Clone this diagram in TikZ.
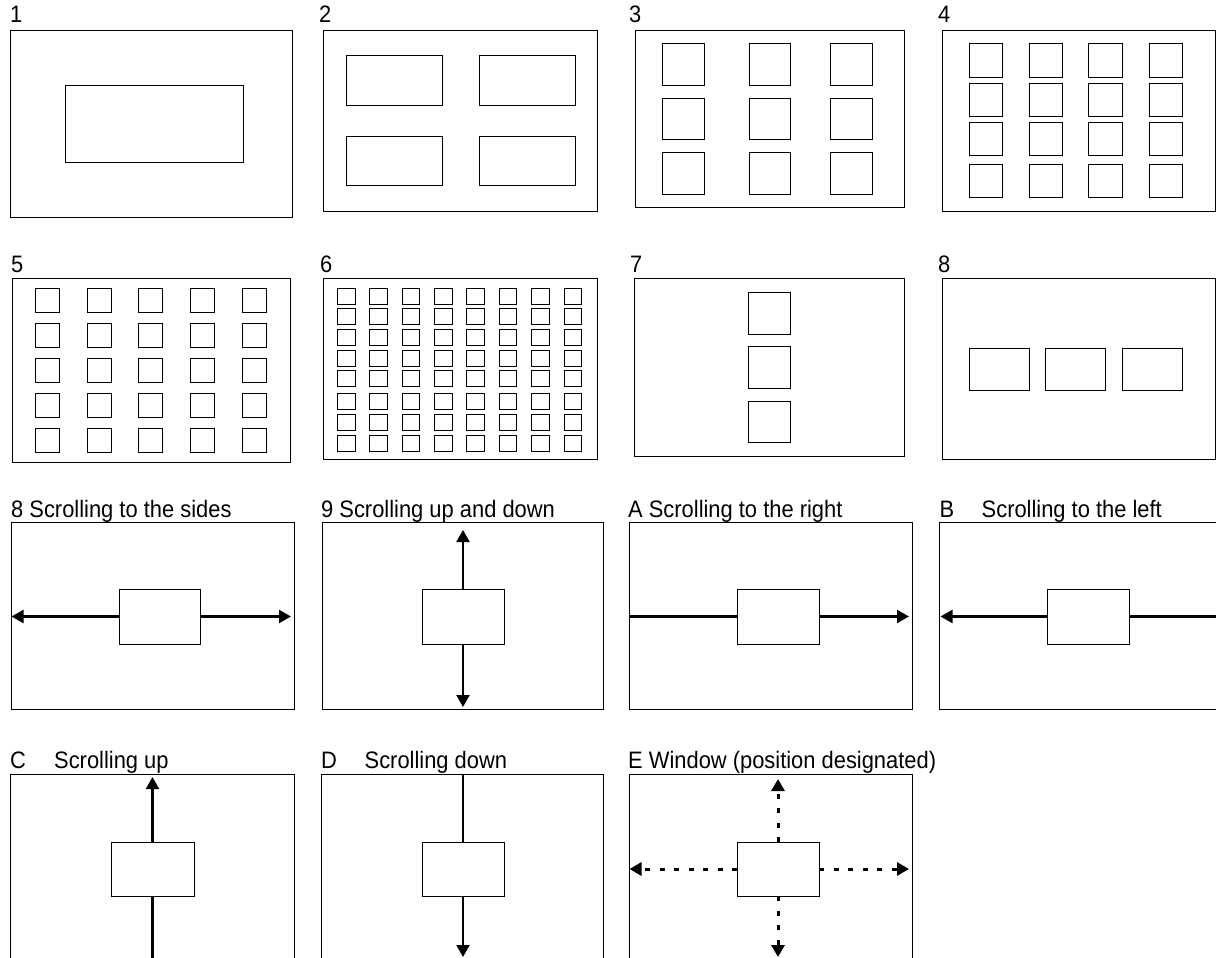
\documentclass[tikz,border=0pt]{standalone}
\usepackage{fontspec}
\setmainfont[FakeStretch=0.92]{Liberation Sans}
\usetikzlibrary{arrows.meta}
\newcommand\mybox[5]{\node[bx, minimum width={(#4)-(#2)}, minimum height={(#5)-(#3)}] (#1) at ({((#2)+(#4))/2},{((#3)+(#5))/2}) {};}
\begin{document}
\begin{tikzpicture}[x=1pt,y=-1pt,
  bx/.style={draw, line width=0.9pt, inner sep=0pt, outer sep=0pt, rectangle},
  lbl/.style={anchor=base west, inner sep=0pt, font=\fontsize{23.8}{28}\selectfont},
  arr/.style={line width=2.2pt, -{Triangle[length=12pt,width=13pt]}},
  ln/.style={line width=2.2pt},
  darr/.style={arr, line width=3pt, dash pattern=on 5pt off 9.5pt}]
\useasboundingbox (0,0) rectangle (1216,958);

% ---------- Row 1 ----------
\node[lbl] (t1) at (10,22.7) {1};
\mybox{p1o}{10}{30}{292}{217}
\mybox{p1i}{65}{85}{243}{162}

\node[lbl] (t2) at (319,22.7) {2};
\mybox{p2o}{323}{30}{597}{211}
\mybox{p2a}{346}{55}{442}{105}
\mybox{p2b}{479}{55}{575}{105}
\mybox{p2c}{346}{136}{442}{185}
\mybox{p2d}{479}{136}{575}{185}

\node[lbl] (t3) at (629,22.7) {3};
\mybox{p3o}{635}{30}{904}{207}
\foreach \xa/\xb [count=\i] in {662/704,749/790,830/872}
  \foreach \ya/\yb [count=\j] in {43/85,98/139,152/194}
    {\mybox{p3-\i-\j}{\xa}{\ya}{\xb}{\yb}}

\node[lbl] (t4) at (938,22.7) {4};
\mybox{p4o}{942}{30}{1215}{211}
\foreach \xa/\xb [count=\i] in {969/1002,1029/1062,1088/1122,1149/1182}
  \foreach \ya/\yb [count=\j] in {43/77,83/116,122/155,164/197}
    {\mybox{p4-\i-\j}{\xa}{\ya}{\xb}{\yb}}

% ---------- Row 2 ----------
\node[lbl] (t5) at (11,272.3) {5};
\mybox{p5o}{12}{278}{290}{462}
\foreach \xa [count=\i] in {35,87,138,190,242}
  \foreach \ya [count=\j] in {288,323,358,393,428}
    {\mybox{p5-\i-\j}{\xa}{\ya}{\xa+24.5}{\ya+24.5}}

\node[lbl] (t6) at (320,272.3) {6};
\mybox{p6o}{323}{278}{597}{459}
\foreach \xa [count=\i] in {337.3,369.3,402,434.7,466.7,499,531.3,564}
  \foreach \ya [count=\j] in {288.3,308.3,329.3,350,370.7,393.3,414.3,435}
    {\mybox{p6-\i-\j}{\xa}{\ya}{\xa+17.7}{\ya+16.2}}

\node[lbl] (t7) at (630,272.3) {7};
\mybox{p7o}{634}{278}{904}{456}
\mybox{p7a}{748}{292}{790}{334}
\mybox{p7b}{748}{346}{790}{388}
\mybox{p7c}{748}{401}{790}{442}

\node[lbl] (t8) at (938,272.3) {8};
\mybox{p8o}{942}{278}{1215}{459}
\mybox{p8a}{969}{348}{1029}{390}
\mybox{p8b}{1045}{348}{1105}{390}
\mybox{p8c}{1122}{348}{1182}{390}

% ---------- Row 3 ----------
\node[lbl] (t8s) at (11,517.3) {8 Scrolling to the sides};
\mybox{s8o}{11.5}{522.7}{294}{709}
\mybox{s8i}{119}{589}{200}{644}
\coordinate (s8l) at (11.5,616.5);
\coordinate (s8r) at (291,616.5);
\draw[arr] (s8i.west) -- (s8l);
\draw[arr] (s8i.east) -- (s8r);

\node[lbl] (t9s) at (321,517.3) {9 Scrolling up and down};
\mybox{s9o}{322}{522.7}{603}{709}
\mybox{s9i}{422}{589}{504}{644}
\coordinate (s9u) at (463,530);
\coordinate (s9d) at (463,707);
\draw[arr] (s9i.north) -- (s9u);
\draw[arr] (s9i.south) -- (s9d);

\node[lbl] (tA) at (628,517.3) {A Scrolling to the right};
\mybox{sAo}{629}{522.7}{912}{709}
\mybox{sAi}{737}{589}{819}{644}
\coordinate (sAr) at (909,616.5);
\draw[ln] (sAo.west |- sAi.west) -- (sAi.west);
\draw[arr] (sAi.east) -- (sAr);

\node[lbl] (tB) at (939.5,517.3) {\makebox[42pt][l]{B}Scrolling to the left};
\mybox{sBo}{939.5}{522.7}{1222}{709}
\mybox{sBi}{1047}{589}{1129}{644}
\coordinate (sBl) at (940.5,616.5);
\draw[ln] (sBi.east) -- (sBo.east |- sBi.east);
\draw[arr] (sBi.west) -- (sBl);

% ---------- Row 4 ----------
\node[lbl] (tC) at (10,768.3) {\makebox[44pt][l]{C}Scrolling up};
\mybox{sCo}{10}{774}{294}{970}
\mybox{sCi}{111}{842}{194}{896}
\coordinate (sCu) at (152.5,777);
\draw[ln] (sCi.south |- sCo.south) -- (sCi.south);
\draw[arr] (sCi.north) -- (sCu);

\node[lbl] (tD) at (321,768.3) {\makebox[43.5pt][l]{D}Scrolling down};
\mybox{sDo}{321}{774}{603}{970}
\mybox{sDi}{422}{842}{504}{896}
\coordinate (sDd) at (463,957);
\draw[ln] (sDi.north |- sDo.north) -- (sDi.north);
\draw[arr] (sDi.south) -- (sDd);

\node[lbl] (tE) at (628,768.3) {E Window (position designated)};
\mybox{sEo}{629}{774}{912}{970}
\mybox{sEi}{737}{842}{819}{896}
\coordinate (sEl) at (629.5,869);
\coordinate (sEr) at (909,869);
\coordinate (sEu) at (778,779);
\coordinate (sEd) at (778,957);
\draw[darr] (sEi.west) -- (sEl);
\draw[darr] (sEi.east) -- (sEr);
\draw[darr] (sEi.north) -- (sEu);
\draw[darr] (sEi.south) -- (sEd);
\end{tikzpicture}
\end{document}
